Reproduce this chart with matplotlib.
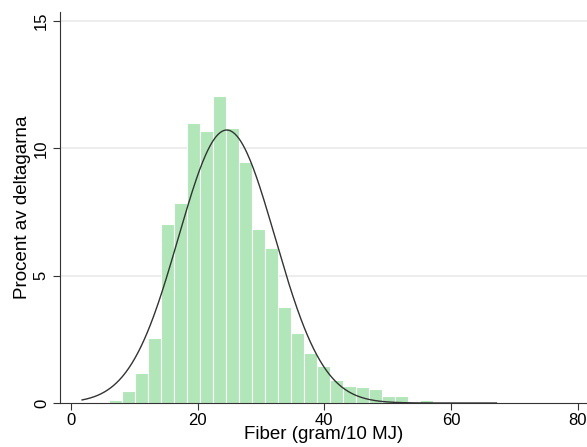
#!/usr/bin/env python3
import numpy as np
import matplotlib
matplotlib.use("Agg")
import matplotlib.pyplot as plt

# histogram: percent of participants per bin
bin_start = 1.9
bin_width = 2.05
percent = [0.0, 0.0, 0.12, 0.49, 1.17, 2.54, 7.03, 7.87, 10.98, 10.68,
           12.06, 10.80, 9.46, 6.82, 6.10, 3.78, 2.74, 1.95, 1.46, 0.89,
           0.68, 0.62, 0.55, 0.27, 0.27, 0.03, 0.12, 0.02, 0.02, 0.0,
           0.0, 0.02]

# fitted normal curve
fiber_mean = 24.6
fiber_sd = 7.63
fiber_min = 1.75
fiber_max = 67.2

x_ticks = [0, 20, 40, 60, 80]
y_ticks = [0, 5, 10, 15]

plt.rcParams['font.family'] = ['Liberation Sans', 'DejaVu Sans']

fig = plt.figure(figsize=(5.87, 4.47), dpi=100)
ax = fig.add_axes([0.1022, 0.0984, 0.8978, 0.8746])

edges = bin_start + bin_width * np.arange(len(percent))
ax.bar(edges, percent, width=bin_width, align='edge',
       color='#b0e6b8', edgecolor='white', linewidth=0.8, zorder=2)

xs = np.linspace(fiber_min, fiber_max, 400)
dens = np.exp(-0.5 * ((xs - fiber_mean) / fiber_sd) ** 2) / (fiber_sd * np.sqrt(2 * np.pi))
ax.plot(xs, dens * bin_width * 100, color='#333333', linewidth=1.0, zorder=3)

for y in y_ticks[1:]:
    ax.axhline(y, color='#eaeaea', linewidth=1.2, zorder=1)

ax.set_xlim(-1.74, 81.5)
ax.set_ylim(0, 15.35)
ax.set_xticks(x_ticks)
ax.set_yticks(y_ticks)
ax.set_yticklabels([str(v) for v in y_ticks], rotation=90, va='center')
ax.tick_params(axis='both', labelsize=12, length=5, width=0.8, color='#333333', pad=3)
ax.tick_params(axis='x', pad=2)

for side in ['top', 'right']:
    ax.spines[side].set_visible(False)
for side in ['left', 'bottom']:
    ax.spines[side].set_color('#333333')
    ax.spines[side].set_linewidth(0.8)

ax.set_xlabel("Fiber (gram/10 MJ)", fontsize=13.5, labelpad=-1)
ax.set_ylabel("Procent av deltagarna", fontsize=13.5, labelpad=2)

fig.savefig("out.png", dpi=100)
